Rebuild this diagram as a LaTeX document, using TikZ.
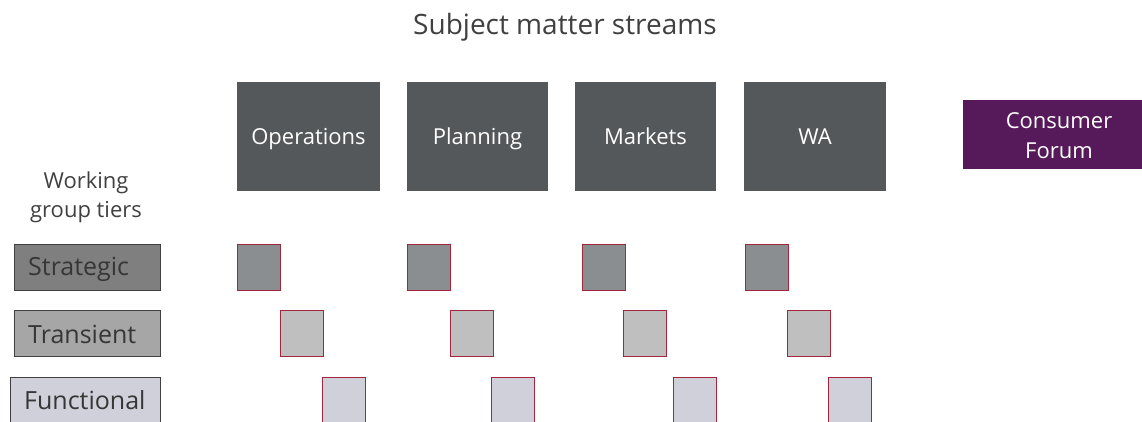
\documentclass[tikz,border=0pt]{standalone}
\usepackage{fontspec}
\setmainfont{Open Sans}
\definecolor{streamgray}{HTML}{55585B}
\definecolor{forumpurple}{HTML}{561A5A}
\definecolor{txtgray}{HTML}{404040}
\definecolor{sfill}{HTML}{8B8E90}
\definecolor{tfill}{HTML}{BFBFBF}
\definecolor{ffill}{HTML}{CFD0DA}
\definecolor{sqborder}{HTML}{A3273A}
\definecolor{tierS}{HTML}{7F7F7F}
\definecolor{tierT}{HTML}{A6A6A6}
\definecolor{tierF}{HTML}{D0D0DA}
\begin{document}
\begin{tikzpicture}[x=1pt,y=-1pt,
  streamtxt/.style={text=white,font=\fontsize{22}{26}\selectfont,anchor=base,inner sep=0pt},
  forumtxt/.style={text=white,font=\fontsize{22}{30}\selectfont,align=center},
  tier/.style={draw=black!75,line width=0.8pt},
  tiertxt/.style={text=txtgray!85!black,font=\fontsize{25}{30}\selectfont,anchor=west,inner sep=0pt},
  sq/.style={draw=sqborder,line width=0.8pt},
]
\useasboundingbox (0,0) rectangle (1142,422);
\node[text=txtgray,font=\fontsize{28}{32}\selectfont] (title) at (565,27) {Subject matter streams};
% stream boxes
\foreach \nm/\xa/\xb/\lab in {ops/237/380/Operations,pln/407/548/Planning,mkt/575/716/Markets,wa/744/886/WA}{
  \fill[streamgray] (\xa,82) rectangle (\xb,191);
  \node[streamtxt] (\nm) at ({(\xa+\xb)/2},145) {\lab};
}
% consumer forum
\fill[forumpurple] (963,100) rectangle (1142,169);
\node[forumtxt] (forum) at (1059,136) {Consumer\\Forum};
% working group tiers
\node[text=txtgray,font=\fontsize{22}{29}\selectfont,align=center] (wgt) at (86,197) {Working\\group tiers};
% tier boxes
\draw[tier,fill=tierS] (14,244) rectangle (160,290);
\node[tiertxt] (strat) at (28,269) {Strategic};
\draw[tier,fill=tierT] (14,310) rectangle (160,356);
\node[tiertxt] (trans) at (28,334) {Transient};
\draw[tier,fill=tierF] (10,377) rectangle (160,422);
\node[tiertxt] (func) at (24,400) {Functional};
% small squares
\foreach \x in {237,407,582,745}{
  \draw[sq,fill=sfill] (\x,244) rectangle ++(43,46);
}
\foreach \x in {280,450,623,787}{
  \draw[sq,fill=tfill] (\x,310) rectangle ++(43,46);
}
\foreach \x in {322,491,673,828}{
  \draw[sq,fill=ffill] (\x,377) rectangle ++(43,45);
}
\end{tikzpicture}
\end{document}
